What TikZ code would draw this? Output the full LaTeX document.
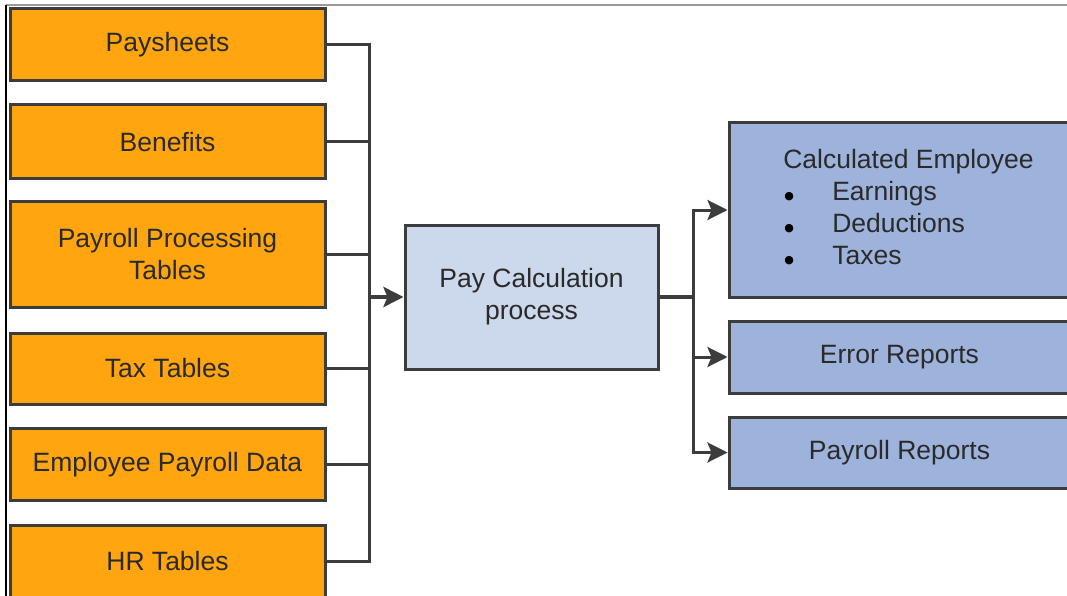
\documentclass[tikz,border=0pt]{standalone}
\usepackage{fontspec}
\usepackage{graphicx}
\setmainfont{Liberation Sans}
\newfontfamily\symfont{DejaVu Sans}
\usetikzlibrary{arrows.meta}
\definecolor{boxline}{HTML}{3C3C3C}
\definecolor{txt}{HTML}{2A2A2A}
\definecolor{orangefill}{HTML}{FFA510}
\definecolor{midfill}{HTML}{CCD8EB}
\definecolor{outfill}{HTML}{9DB3DB}
\definecolor{framegray}{HTML}{9A9A9A}
\newcommand{\bigdot}{\raisebox{1pt}[0pt][0pt]{\textcolor{black}{\symfont\fontsize{11}{11}\selectfont ●}}}
\tikzset{
  every node/.style={font=\fontsize{26.5}{32}\selectfont, text=txt},
  box/.style={draw=boxline, line width=3pt, inner sep=0pt, align=center},
  inbox/.style={box, fill=orangefill, minimum width=315pt},
  midbox/.style={box, fill=midfill, minimum width=253pt, minimum height=144pt},
  outbox/.style={box, fill=outfill, minimum width=341pt},
  wire/.style={draw=boxline, line width=3pt},
  mainwire/.style={draw=boxline, line width=4.5pt},
  arr/.style={wire, -{Stealth[length=20pt, width=20pt, inset=4pt]}},
}
\begin{document}
\begin{tikzpicture}[x=1pt, y=-1pt]
\useasboundingbox (0,0) rectangle (1067,596);
\clip (0,0) rectangle (1067,596);
\fill[white] (0,0) rectangle (1067,596);
% frame lines
\draw[framegray, line width=1.5pt] (6,5) -- (1067,5);
\draw[black, line width=1.5pt] (6,5) -- (6,596);
% input boxes
\node[inbox, minimum height=72pt] (ps)  at (167.5,45) {\raisebox{-2pt}{Paysheets}};
\node[inbox, minimum height=74pt] (ben) at (167.5,142) {\raisebox{-2pt}{Benefits}};
\node[inbox, minimum height=106pt] (ppt) at (167.5,254) {Payroll Processing\\Tables};
\node[inbox, minimum height=71pt] (tax) at (167.5,368.5) {\raisebox{-1pt}{Tax Tables}};
\node[inbox, minimum height=72pt] (epd) at (167.5,464.5) {\raisebox{-2pt}{Employee Payroll Data}};
\node[inbox, minimum height=72pt] (hr)  at (167.5,561) {\raisebox{-1pt}{HR Tables}};
% middle
\node[midbox] (pc) at (531.5,297) {Pay Calculation\\process};
% outputs
\node[outbox, minimum height=174pt] (ce) at (899.5,210) {\hspace*{18pt}\raisebox{-2pt}{\begin{tabular}{@{}l@{}}Calculated Employee\\
\makebox[49pt][l]{\hspace*{1pt}\bigdot}Earnings\\
\makebox[49pt][l]{\hspace*{1pt}\bigdot}Deductions\\
\makebox[49pt][l]{\hspace*{1pt}\bigdot}Taxes\end{tabular}}};
\node[outbox, minimum height=72pt] (er) at (899.5,357) {Error Reports};
\node[outbox, minimum height=71pt] (pr) at (899.5,452.5) {Payroll Reports};
% junctions
\coordinate (jin) at (369,297);
\coordinate (jout) at (693,297);
% input wires
\foreach \n in {ps,ben,ppt,tax,epd,hr}{
  \draw[wire] (\n.east) -| (jin);
}
\draw[arr, line width=4.5pt] (jin) -- (pc.west);
% output wires
\draw[mainwire] (pc.east) -- (jout);
\draw[arr] (jout) |- (ce.west);
\draw[arr] (jout) |- (er.west);
\draw[arr] (jout) |- (pr.west);
\end{tikzpicture}
\end{document}
